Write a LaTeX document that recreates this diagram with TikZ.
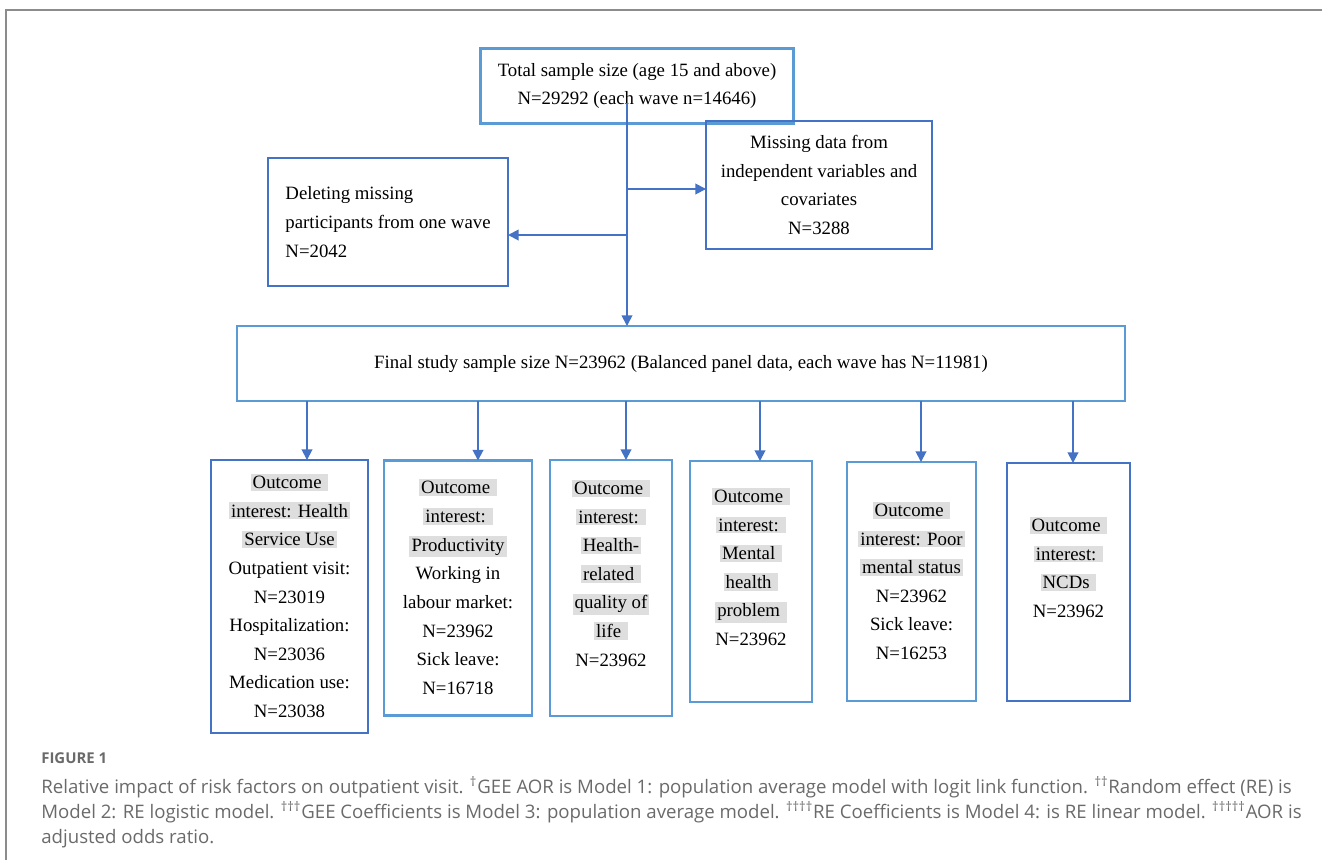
\documentclass[tikz,border=0pt]{standalone}
\usepackage{fontspec}
\setmainfont{Liberation Serif}
\newfontfamily\capfont{Open Sans}
\usetikzlibrary{arrows.meta,positioning}
\definecolor{darkblue}{HTML}{4472C4}
\definecolor{lightblue}{HTML}{5B9BD5}
\definecolor{capgray}{HTML}{6A6A6A}
% grey shading behind a line, as in the word file
\newcommand{\hl}[1]{{\setlength{\fboxsep}{1.2pt}\colorbox{black!13}{#1}}}
\tikzset{box/.style={draw=#1, line width=1.2pt, inner sep=0pt, outer sep=0pt},
box/.default={lightblue},
arr/.style={draw=darkblue, line width=1pt, -{Triangle[width=6pt,length=6pt]}},
boxtext/.style={align=center, inner sep=0pt, font=\fontsize{10.7}{16.3}\selectfont}}

\begin{document}
\begin{tikzpicture}[x=0.02cm,y=-0.02cm]
\useasboundingbox (0,0) rectangle (1322,860);
% frame
\draw[gray!90, line width=1.2pt] (6,860) -- (6,10) -- (1322,10);

% exclusions
\node[box, boxtext, minimum width=6.26cm, minimum height=1.5cm] (total) at (637,86)
  {Total sample size (age 15 and above)\\N=29292 (each wave n=14646)};
\node[box=darkblue, boxtext, minimum width=4.52cm, minimum height=2.56cm] (missing) at (819,185)
  {Missing data from\\independent variables and\\covariates\\N=3288};
\node[box=darkblue, boxtext, align=left, minimum width=4.8cm, minimum height=2.56cm] (deleting) at (388,222)
  {Deleting missing\\participants from one wave\\N=2042};
\node[box, boxtext, minimum width=17.76cm, minimum height=1.5cm] (final) at (681,363.5)
  {Final study sample size N=23962 (Balanced panel data, each wave has N=11981)};

\coordinate (trunk) at (627,103);
\coordinate (split1) at (627,189);
\coordinate (split2) at (627,235);
\draw[arr] (trunk) -- (trunk |- final.north);
\draw[arr] (split1) -- (split1 -| missing.west);
\draw[arr] (split2) -- (split2 -| deleting.east);

% outcomes
\node[box=darkblue, minimum width=3.14cm, minimum height=5.46cm] (out1) at (289.5,596.5) {};
\node[box, minimum width=2.96cm, minimum height=5.1cm] (out2) at (458,588) {};
\node[box, minimum width=2.44cm, minimum height=5.12cm] (out3) at (611,588) {};
\node[box, minimum width=2.44cm, minimum height=4.82cm] (out4) at (751,581.5) {};
\node[box, minimum width=2.58cm, minimum height=4.78cm] (out5) at (911.5,581.5) {};
\node[box=darkblue, minimum width=2.46cm, minimum height=4.76cm] (out6) at (1068.5,582) {};

\node[boxtext, below=0.27cm of out1.north] (txt1)
  {\hl{Outcome\ }\\\hl{interest: Health}\\\hl{Service Use}\\Outpatient visit:\\N=23019\\Hospitalization:\\N=23036\\Medication use:\\N=23038};
\node[boxtext, below=0.37cm of out2.north] (txt2)
  {\hl{Outcome\ }\\\hl{interest:\ }\\\hl{Productivity}\\Working in\\labour market:\\N=23962\\Sick leave:\\N=16718};
\node[boxtext, below=0.39cm of out3.north] (txt3)
  {\hl{Outcome\ }\\\hl{interest:\ }\\\hl{Health-}\\\hl{related\ }\\\hl{quality of}\\\hl{life\ }\\N=23962};
\node[boxtext, below=0.53cm of out4.north] (txt4)
  {\hl{Outcome\ }\\\hl{interest:\ }\\\hl{Mental\ }\\\hl{health\ }\\\hl{problem\ }\\N=23962};
\node[boxtext, below=0.79cm of out5.north] (txt5)
  {\hl{Outcome\ }\\\hl{interest: Poor}\\\hl{mental status}\\N=23962\\Sick leave:\\N=16253};
\node[boxtext, below=1.07cm of out6.north] (txt6)
  {\hl{Outcome\ }\\\hl{interest:\ }\\\hl{NCDs\ }\\N=23962};

\foreach \x/\o in {307/out1,478/out2,626/out3,760/out4,921/out5,1073/out6}{
  \coordinate (top-\o) at (\x,0);
  \draw[arr] (final.south -| top-\o) -- (\o.north -| top-\o);
}

% caption
\node[anchor=west, inner sep=0pt, text=capgray, font=\capfont\bfseries\fontsize{8.5}{10}\selectfont] (figlabel) at (41,758) {FIGURE 1};
\node[anchor=north west, align=left, inner sep=0pt, text=capgray, font=\capfont\fontsize{10.6}{14.4}\selectfont] (caption) at (41,776)
  {Relative impact of risk factors on outpatient visit. \textsuperscript{†}GEE AOR is Model 1: population average model with logit link function. \textsuperscript{††}Random effect (RE) is\\
   Model 2: RE logistic model. \textsuperscript{†††}GEE Coefficients is Model 3: population average model. \textsuperscript{††††}RE Coefficients is Model 4: is RE linear model. \textsuperscript{†††††}AOR is\\
   adjusted odds ratio.};
\end{tikzpicture}
\end{document}
